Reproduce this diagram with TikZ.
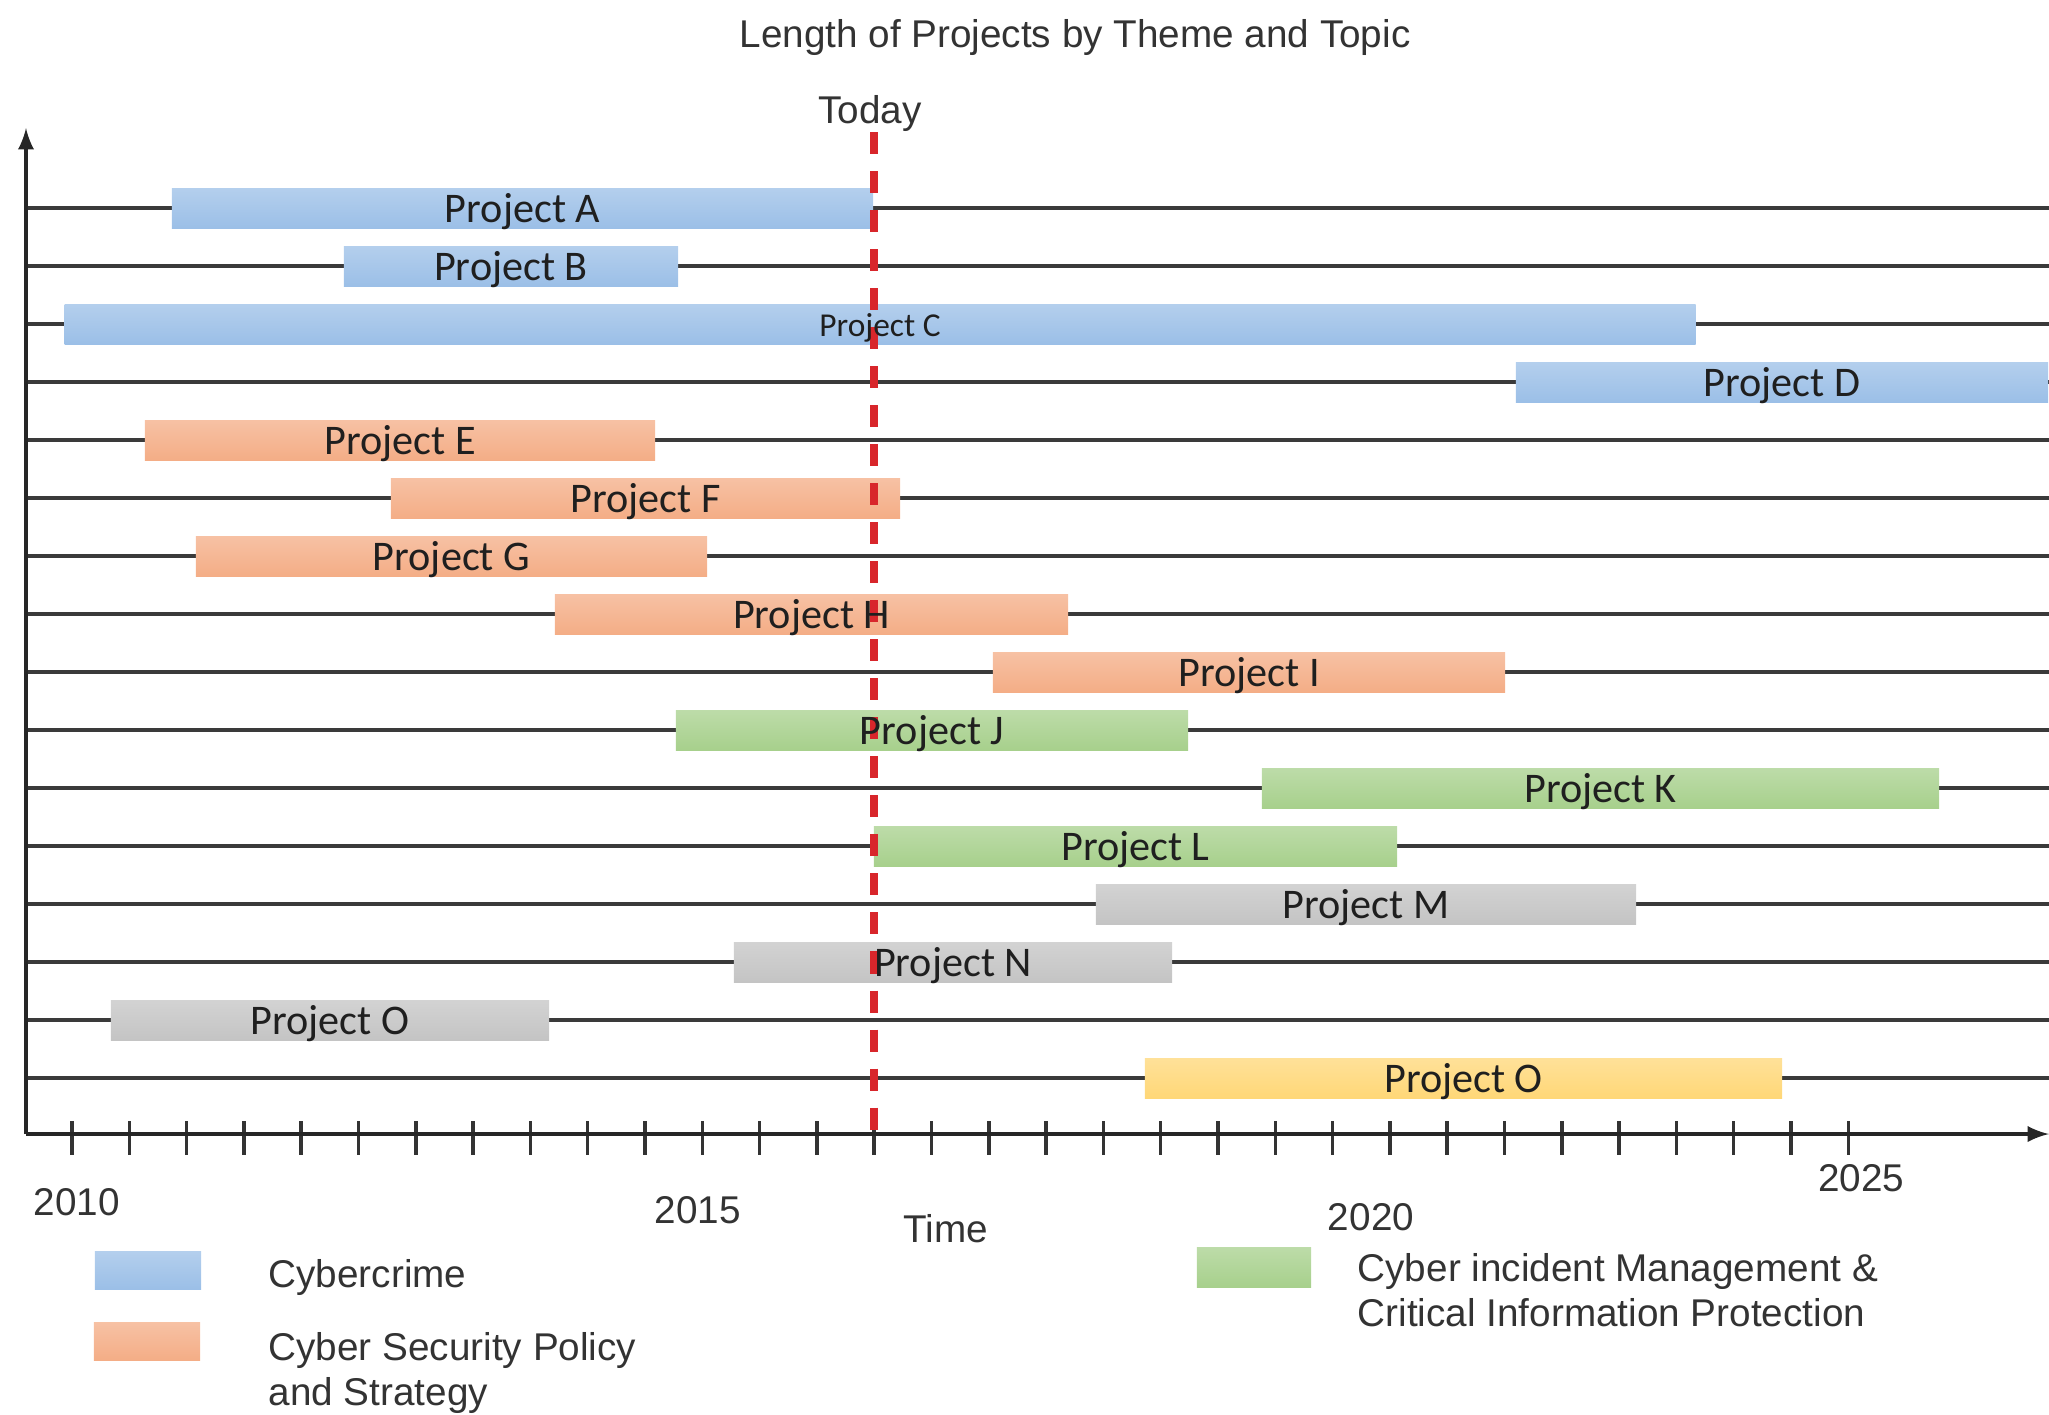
\documentclass[tikz,border=0pt]{standalone}
\usepackage{fontspec}
\setmainfont{Liberation Sans}
\newfontfamily\barfont{Carlito}
\usepackage{xcolor}
\usepackage{tikz}
\definecolor{crime}{HTML}{9BBFE7}
\definecolor{policy}{HTML}{F4AD86}
\definecolor{incident}{HTML}{A7D08C}
\definecolor{other}{HTML}{C4C4C4}
\definecolor{extra}{HTML}{FFD777}
\definecolor{today}{HTML}{D8262B}
\definecolor{rule}{HTML}{3A3A3A}
\tikzstyle{bar}=[shape=rectangle, inner sep=0pt, minimum height=0.4cm]
\tikzstyle{blue bar}=[bar, top color=crime!75, bottom color=crime]
\tikzstyle{orange bar}=[bar, top color=policy!75, bottom color=policy]
\tikzstyle{green bar}=[bar, top color=incident!75, bottom color=incident]
\tikzstyle{grey bar}=[bar, top color=other!75, bottom color=other]
\tikzstyle{yellow bar}=[bar, top color=extra!75, bottom color=extra]
\tikzstyle{bar label}=[font=\barfont\fontsize{12}{14}\selectfont, text=black!88, inner sep=0pt, yshift=-1pt]
\tikzstyle{row}=[-, draw=rule, line width=1.1pt]
\tikzstyle{axis}=[-latex, draw=black!85, line width=1.1pt]
\tikzstyle{tick}=[-, draw=black!80, line width=1pt]
\tikzstyle{today line}=[-, draw=today, line width=2pt, dash pattern=on 0.22cm off 0.17cm]
\tikzstyle{swatch}=[shape=rectangle, inner sep=0pt, minimum width=1.06cm, minimum height=0.38cm]
\tikzstyle{legend}=[font=\fontsize{11}{12.8}\selectfont, align=left, anchor=west, text=black!80, inner sep=0pt]
\tikzstyle{year}=[font=\fontsize{11}{13}\selectfont, text=black!80, inner sep=0pt]
\pgfdeclarelayer{edgelayer}
\pgfdeclarelayer{nodelayer}
\pgfdeclarelayer{todaylayer}
\pgfsetlayers{edgelayer,nodelayer,todaylayer,main}

\begin{document}
\begin{tikzpicture}[x=0.01cm, y=-0.01cm]
	\useasboundingbox (0, 0) rectangle (2049, 1414);
	\begin{pgfonlayer}{edgelayer}
		\coordinate (o) at (26, 1134);
		\coordinate (ytop) at (26, 128);
		\coordinate (xend) at (2049, 1134);
		\foreach \y in {208, 266, ..., 1078}
			\draw [style=row] (26, \y) -- (2049, \y);
		\foreach \i in {0, ..., 31}
			\draw [style=tick] ({72+57.3*\i}, 1121) -- ({72+57.3*\i}, 1155);
		\draw [style=axis] (o) -- (ytop);
		\draw [style=axis] (o) -- (xend);
	\end{pgfonlayer}
	\begin{pgfonlayer}{nodelayer}
		\node [style=blue bar, minimum width=7.01cm] (A) at (522.5, 208) {};
		\node [style=blue bar, minimum width=3.34cm] (B) at (511, 266) {};
		\node [style=blue bar, minimum width=16.3cm] (C) at (880, 324) {};
		\node [style=blue bar, minimum width=5.32cm] (D) at (1782, 382) {};
		\node [style=orange bar, minimum width=5.1cm] (E) at (400, 440) {};
		\node [style=orange bar, minimum width=5.09cm] (F) at (645.5, 498) {};
		\node [style=orange bar, minimum width=5.11cm] (G) at (451.5, 556) {};
		\node [style=orange bar, minimum width=5.13cm] (H) at (811.5, 614) {};
		\node [style=orange bar, minimum width=5.12cm] (I) at (1249, 672) {};
		\node [style=green bar, minimum width=5.12cm] (J) at (932, 730) {};
		\node [style=green bar, minimum width=6.77cm] (K) at (1600.5, 788) {};
		\node [style=green bar, minimum width=5.23cm] (L) at (1135.5, 846) {};
		\node [style=grey bar, minimum width=5.4cm] (M) at (1366, 904) {};
		\node [style=grey bar, minimum width=4.38cm] (N) at (953, 962) {};
		\node [style=grey bar, minimum width=4.38cm] (O) at (330, 1020) {};
		\node [style=yellow bar, minimum width=6.37cm] (O2) at (1463.5, 1078) {};
	\end{pgfonlayer}
	\begin{pgfonlayer}{todaylayer}
		\coordinate (now top) at (874, 132);
		\coordinate (now bottom) at (874, 1134);
		\draw [style=today line] (now top) -- (now bottom);
	\end{pgfonlayer}
	% bar labels
	\node [style=bar label] (a) at (A) {Project A};
	\node [style=bar label] (b) at (B) {Project B};
	\node [style=bar label, font=\barfont\fontsize{9.5}{11}\selectfont] (c) at (C) {Project C};
	\node [style=bar label] (d) at (D) {Project D};
	\node [style=bar label] (e) at (E) {Project E};
	\node [style=bar label] (f) at (F) {Project F};
	\node [style=bar label] (g) at (G) {Project G};
	\node [style=bar label] (h) at (H) {Project H};
	\node [style=bar label] (i) at (I) {Project I};
	\node [style=bar label] (j) at (J) {Project J};
	\node [style=bar label] (k) at (K) {Project K};
	\node [style=bar label] (l) at (L) {Project L};
	\node [style=bar label] (m) at (M) {Project M};
	\node [style=bar label] (n) at (N) {Project N};
	\node [style=bar label] (o1) at (O) {Project O};
	\node [style=bar label] (o2) at (O2) {Project O};
	% titles and axis labels
	\node [style=year] (title) at (1075, 37) {Length of Projects by Theme and Topic};
	\node [style=year] (today) at (870, 113) {Today};
	\node [style=year] (y2010) at (77, 1202) {2010};
	\node [style=year] (y2015) at (698, 1210) {2015};
	\node [style=year] (time) at (946, 1229) {Time};
	\node [style=year] (y2020) at (1371, 1217) {2020};
	\node [style=year] (y2025) at (1861, 1178) {2025};
	% legend
	\node [style=swatch, top color=crime!75, bottom color=crime] (s1) at (148, 1270) {};
	\node [style=swatch, top color=policy!75, bottom color=policy] (s2) at (147, 1341) {};
	\node [style=swatch, top color=incident!75, bottom color=incident, minimum width=1.14cm, minimum height=0.4cm] (s3) at (1254, 1267) {};
	\node [style=legend] (l1) at (268, 1277) {Cybercrime};
	\node [style=legend] (l2) at (268, 1373) {Cyber Security Policy\\and Strategy};
	\node [style=legend] (l3) at (1357, 1290) {Cyber incident Management \&\\Critical Information Protection};
\end{tikzpicture}
\end{document}
